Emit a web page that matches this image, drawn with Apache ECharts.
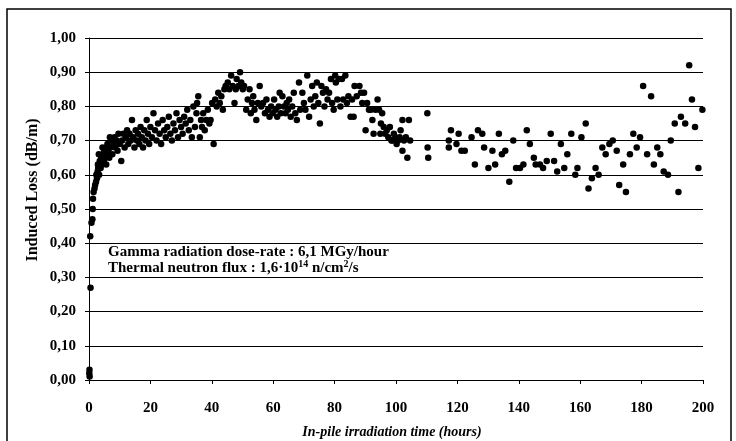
<!DOCTYPE html>
<html>
<head>
<meta charset="utf-8">
<title>Induced loss vs in-pile irradiation time</title>
<script src="https://cdn.jsdelivr.net/npm/echarts@6/dist/echarts.min.js"></script>
<style>
html, body { margin: 0; padding: 0; background: #fff; }
#chart { width: 736px; height: 441px; }
</style>
</head>
<body>
<div id="chart"></div>
<script>
// tick labels
const xTickLabels = ['0', '20', '40', '60', '80', '100', '120', '140', '160', '180', '200'];
const yTickLabels = ['0,00', '0,10', '0,20', '0,30', '0,40', '0,50', '0,60', '0,70', '0,80', '0,90', '1,00'];

// [hours, dB/m], split by time range
const riseData = [
    [0.1, 0.02], [0.15, 0.03], [0.2, 0.01], [0.5, 0.27], [0.4, 0.42], [0.8, 0.46], [1.1, 0.47],
    [1.2, 0.50], [1.3, 0.53], [1.5, 0.55], [1.8, 0.56], [2.0, 0.57], [2.3, 0.58], [2.6, 0.59],
    [2.4, 0.60], [2.8, 0.61], [3.0, 0.62], [2.9, 0.63], [3.3, 0.60], [3.5, 0.64], [3.8, 0.62],
    [4.0, 0.65], [4.2, 0.63], [4.5, 0.66], [4.8, 0.64], [5.0, 0.67], [5.2, 0.65], [5.5, 0.68],
    [5.8, 0.66], [6.0, 0.69], [6.3, 0.67], [6.6, 0.65], [7.0, 0.68], [7.3, 0.70], [7.6, 0.66],
    [8.0, 0.69], [8.3, 0.71], [8.6, 0.68], [9.0, 0.70], [9.3, 0.67], [9.6, 0.72], [10.0, 0.69],
    [10.5, 0.64], [3.2, 0.66], [4.4, 0.68], [6.8, 0.71], [5.6, 0.63]
];
const growthData = [
    [10.8, 0.70], [11.2, 0.72], [11.6, 0.68], [12.0, 0.71], [12.4, 0.73], [12.8, 0.69], [13.2, 0.72],
    [13.6, 0.70], [14.0, 0.76], [14.4, 0.71], [14.8, 0.68], [15.2, 0.73], [15.6, 0.70], [16.0, 0.72],
    [16.4, 0.69], [16.8, 0.74], [17.2, 0.71], [17.6, 0.68], [18.0, 0.73], [18.4, 0.70], [18.8, 0.76],
    [19.2, 0.72], [19.6, 0.69], [20.0, 0.74], [20.5, 0.71], [21.0, 0.78], [21.5, 0.73], [22.0, 0.70],
    [22.5, 0.75], [23.0, 0.72], [23.5, 0.69], [24.0, 0.76], [24.5, 0.73], [25.0, 0.71], [25.5, 0.74],
    [26.0, 0.77], [26.5, 0.72], [27.0, 0.70], [27.5, 0.75], [28.0, 0.73], [28.5, 0.78], [29.0, 0.71],
    [29.5, 0.76], [30.0, 0.74], [30.5, 0.72], [31.0, 0.77], [31.5, 0.75], [32.0, 0.79], [32.5, 0.73],
    [33.0, 0.76], [33.5, 0.71], [34.0, 0.80], [34.5, 0.74], [35.0, 0.78], [35.2, 0.81], [35.6, 0.83],
    [36.1, 0.71], [36.5, 0.76], [36.8, 0.74], [37.2, 0.78], [37.7, 0.73], [38.2, 0.76], [38.7, 0.79],
    [39.2, 0.75], [39.6, 0.76], [40.1, 0.81], [40.6, 0.69], [41.1, 0.82], [41.6, 0.80], [42.1, 0.84],
    [42.6, 0.81], [43.1, 0.83], [43.6, 0.79], [44.1, 0.85]
];
const plateauData = [
    [44.5, 0.86], [45.2, 0.87], [45.7, 0.85], [46.3, 0.89], [46.8, 0.86], [47.4, 0.81], [47.8, 0.85],
    [48.1, 0.88], [48.7, 0.86], [49.2, 0.90], [49.6, 0.87], [50.1, 0.85], [50.5, 0.86], [51.2, 0.79],
    [51.7, 0.82], [52.3, 0.85], [52.7, 0.78], [53.1, 0.81], [53.5, 0.83], [53.9, 0.79], [54.5, 0.76],
    [55.0, 0.81], [55.6, 0.86], [56.1, 0.80], [56.7, 0.81], [57.3, 0.78], [57.8, 0.82], [58.3, 0.79],
    [58.8, 0.77], [59.3, 0.80], [59.8, 0.78], [60.3, 0.82], [60.8, 0.79], [61.3, 0.77], [61.8, 0.80],
    [62.1, 0.84], [62.5, 0.78], [63.0, 0.83], [63.5, 0.80], [64.0, 0.78], [64.4, 0.81], [64.8, 0.79],
    [65.2, 0.82], [65.7, 0.77], [66.2, 0.80], [66.7, 0.84], [67.2, 0.78], [67.7, 0.76], [68.4, 0.87],
    [68.8, 0.79], [69.5, 0.84], [70.0, 0.81], [70.5, 0.79], [71.1, 0.89], [71.7, 0.77], [72.2, 0.82],
    [72.7, 0.86], [73.2, 0.80], [73.7, 0.83], [74.2, 0.87], [74.7, 0.81], [75.2, 0.75], [75.7, 0.86],
    [76.2, 0.84], [76.7, 0.80], [77.2, 0.85], [77.7, 0.82], [78.2, 0.84], [78.8, 0.88], [79.2, 0.81],
    [79.7, 0.79], [80.2, 0.89], [80.4, 0.87], [80.9, 0.82], [81.4, 0.88], [81.9, 0.80], [82.4, 0.88],
    [82.8, 0.82], [83.5, 0.89], [84.0, 0.81], [84.5, 0.83], [85.2, 0.77], [85.7, 0.82], [86.2, 0.77],
    [86.5, 0.86], [87.2, 0.83], [88.1, 0.86], [88.6, 0.84], [89.0, 0.81]
];
const decayData = [
    [89.6, 0.84], [90.1, 0.73], [90.6, 0.81], [91.2, 0.79], [91.8, 0.79], [92.3, 0.76], [92.7, 0.72],
    [93.3, 0.79], [94.0, 0.82], [94.5, 0.79], [94.9, 0.72], [95.1, 0.75], [95.5, 0.78], [96.0, 0.74],
    [96.5, 0.72], [97.0, 0.73], [97.5, 0.71], [98.0, 0.74], [98.5, 0.70], [98.8, 0.70], [99.3, 0.72],
    [99.8, 0.71], [100.2, 0.69], [100.7, 0.70], [101.2, 0.71], [101.5, 0.73], [102.1, 0.76], [102.1, 0.67],
    [102.6, 0.70], [103.2, 0.71], [103.7, 0.65], [104.2, 0.76], [104.6, 0.70],
    [110.2, 0.78], [110.3, 0.68], [110.5, 0.65]
];
const lateData = [
    [117.2, 0.70], [117.2, 0.68], [117.9, 0.73], [119.7, 0.69], [120.4, 0.72], [121.3, 0.67], [122.4, 0.67],
    [124.6, 0.71], [125.7, 0.63], [126.7, 0.73], [128.1, 0.72], [128.7, 0.68], [130.1, 0.62], [131.4, 0.67],
    [132.3, 0.63], [133.5, 0.72], [134.5, 0.66], [135.6, 0.67], [136.9, 0.58], [138.2, 0.70], [139.1, 0.62],
    [140.4, 0.62], [141.5, 0.63], [142.6, 0.73], [143.6, 0.69], [144.9, 0.65], [145.5, 0.63], [146.9, 0.63],
    [147.9, 0.62], [149.1, 0.64], [150.4, 0.72], [151.5, 0.64], [152.5, 0.61], [153.7, 0.69], [154.8, 0.62],
    [155.8, 0.66], [157.1, 0.72], [158.4, 0.60], [159.1, 0.62], [160.4, 0.71], [161.8, 0.75], [162.7, 0.56],
    [163.8, 0.59], [165.0, 0.62], [166.0, 0.60], [167.2, 0.68], [168.3, 0.66], [169.5, 0.69], [170.6, 0.70],
    [171.9, 0.67], [172.7, 0.57], [174.0, 0.63], [174.9, 0.55], [176.2, 0.66], [177.3, 0.72], [178.4, 0.68],
    [179.5, 0.71], [180.5, 0.86], [181.8, 0.66], [183.1, 0.83], [184.0, 0.63], [185.1, 0.68], [186.1, 0.66],
    [187.2, 0.61], [188.6, 0.60], [189.5, 0.70], [190.8, 0.75], [192.0, 0.55], [192.8, 0.77], [194.2, 0.75],
    [195.5, 0.92], [196.4, 0.82], [197.4, 0.74], [198.5, 0.62], [199.8, 0.79]
];

const serif = '"Liberation Serif", "DejaVu Serif", serif';
const chart = echarts.init(document.getElementById('chart'));

const dots = (data) => ({
    type: 'scatter',
    data: data,
    symbol: 'circle',
    symbolSize: 6.5,
    itemStyle: { color: '#000', opacity: 1 },
    clip: false,
    silent: true
});

chart.setOption({
    animation: false,
    backgroundColor: '#fff',
    grid: { left: 89, top: 38, width: 614, height: 342 },
    xAxis: {
        type: 'value',
        min: 0,
        max: 200,
        interval: 20,
        axisLine: { lineStyle: { color: '#000', width: 1 } },
        axisTick: { show: true, length: 4, lineStyle: { color: '#000' } },
        axisLabel: {
            margin: 21,
            color: '#000',
            fontFamily: serif,
            fontWeight: 'bold',
            fontSize: 15,
            formatter: (v, i) => xTickLabels[i]
        },
        splitLine: { show: false }
    },
    yAxis: {
        type: 'value',
        min: 0,
        max: 1,
        interval: 0.1,
        axisLine: { show: true, lineStyle: { color: '#000', width: 1 } },
        axisTick: { show: true, length: 4, lineStyle: { color: '#000' } },
        axisLabel: {
            margin: 13,
            color: '#000',
            fontFamily: serif,
            fontWeight: 'bold',
            fontSize: 15,
            formatter: (v, i) => yTickLabels[i]
        },
        splitLine: { show: true, lineStyle: { color: '#000', width: 1 } }
    },
    series: [dots(riseData), dots(growthData), dots(plateauData), dots(decayData), dots(lateData)],
    graphic: [
        // outer frame
        {
            type: 'rect',
            shape: { x: 7, y: 9, width: 724, height: 440 },
            style: { fill: 'none', stroke: '#000', lineWidth: 1.5 }
        },
        {
            type: 'text',
            x: 108, y: 245,
            style: {
                text: 'Gamma radiation dose-rate : 6,1 MGy/hour',
                font: 'bold 15px ' + serif,
                fill: '#000'
            }
        },
        {
            type: 'text',
            x: 108, y: 259,
            style: {
                text: '{n|Thermal neutron flux : 1,6·10}{s|14}{n| n/cm}{s|2}{n|/s}',
                fill: '#000',
                rich: {
                    n: { font: 'bold 15px ' + serif, lineHeight: 17, verticalAlign: 'bottom' },
                    s: { font: 'bold 10px ' + serif, lineHeight: 17, verticalAlign: 'top' }
                }
            }
        },
        {
            type: 'text',
            x: 392, y: 432,
            style: {
                text: 'In-pile irradiation time (hours)',
                font: 'italic bold 14px ' + serif,
                fill: '#000',
                align: 'center',
                verticalAlign: 'middle'
            }
        },
        {
            type: 'text',
            x: 33, y: 190,
            rotation: Math.PI / 2,
            style: {
                text: 'Induced Loss (dB/m)',
                font: 'bold 16px ' + serif,
                fill: '#000',
                align: 'center',
                verticalAlign: 'middle'
            }
        }
    ]
});
</script>
</body>
</html>
